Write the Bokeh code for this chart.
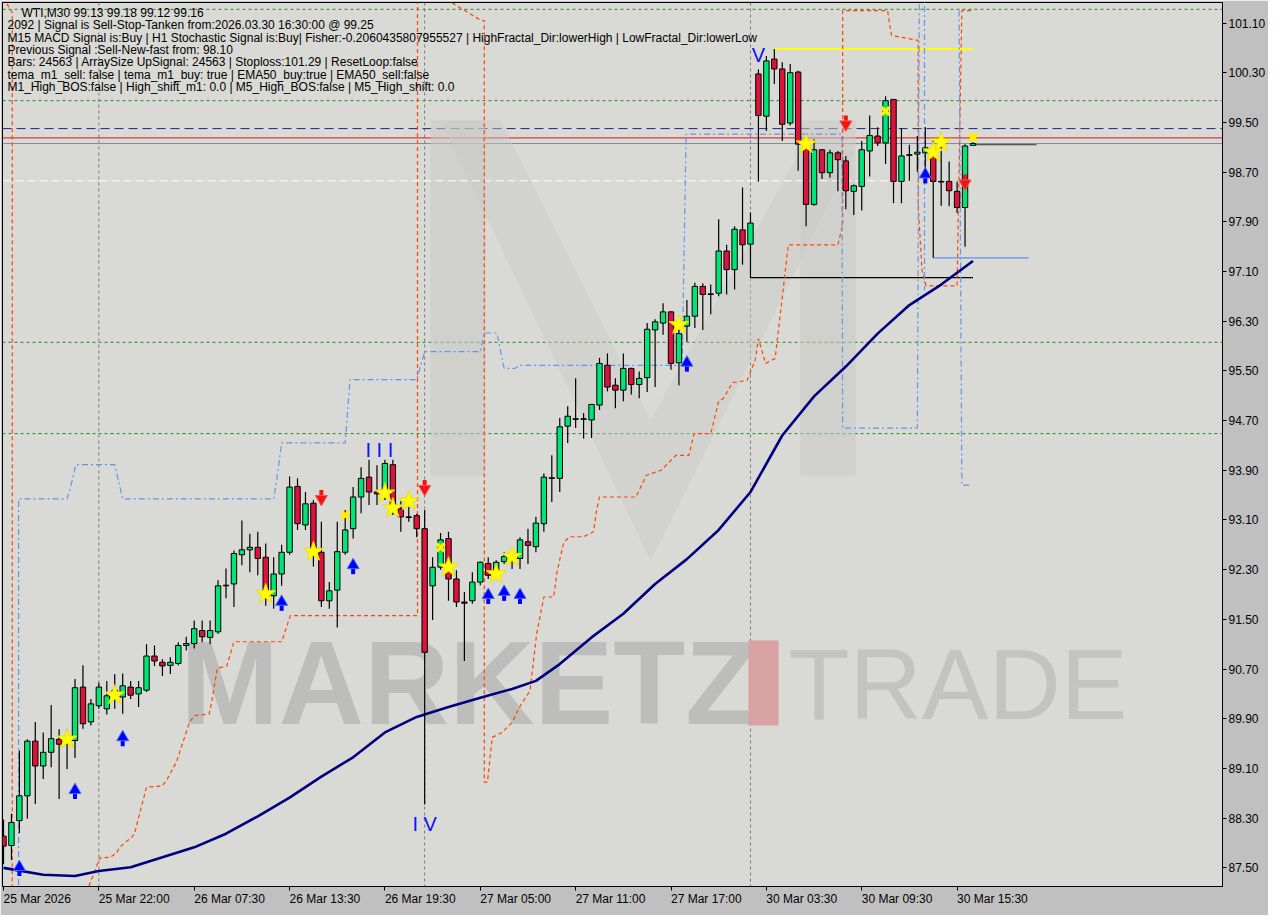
import math
from bokeh.plotting import figure
from bokeh.models import Range1d, FixedTicker, Span, Label, ColumnDataSource
from bokeh.core.properties import value
from bokeh.embed import file_html
from bokeh.resources import INLINE

# ---------------- data ----------------
open_ = [88.01, 87.86, 88.26, 88.66, 89.54, 89.14, 89.36, 89.57, 89.55, 89.55,
         90.41, 89.85, 90.11, 90.06, 90.24, 90.25, 90.41, 90.30, 90.36, 90.91,
         90.81, 90.76, 90.79, 91.08, 91.11, 91.32, 91.21, 91.30, 92.04, 92.07,
         92.54, 92.62, 92.66, 92.50, 91.88, 92.23, 92.58, 93.64, 93.02, 93.37,
         92.58, 91.80, 91.97, 92.58, 92.96, 93.47, 93.79, 93.55, 93.52, 93.99,
         93.28, 93.15, 93.17, 92.96, 92.04, 92.34, 92.80, 92.15, 91.78, 91.80,
         92.10, 92.40, 92.24, 92.43, 92.50, 92.48, 92.75, 92.67, 93.04, 93.77,
         93.77, 94.61, 94.72, 94.72, 94.71, 94.95, 95.59, 95.27, 95.19, 95.54,
         95.28, 95.39, 96.16, 96.27, 96.45, 95.63, 96.22, 96.38, 96.86, 96.73,
         96.75, 97.43, 97.13, 97.77, 97.54, 100.28, 99.60, 100.52, 100.36, 99.49,
         100.31, 99.12, 98.18, 99.06, 98.69, 99.01, 98.88, 98.39, 98.47, 99.04,
         99.28, 99.17, 99.87, 98.55, 98.97, 98.99, 99.01, 99.04, 98.55, 98.55,
         98.39, 98.13, 99.13]
high = [88.28, 88.37, 89.39, 89.57, 89.85, 89.68, 90.12, 89.73, 89.73, 90.54,
        90.76, 90.22, 90.48, 90.51, 90.62, 90.63, 90.51, 90.51, 91.10, 91.08,
        90.86, 90.89, 91.13, 91.22, 91.48, 91.48, 91.48, 92.13, 92.32, 92.61,
        93.09, 92.88, 92.91, 92.72, 92.50, 92.70, 93.80, 93.77, 93.55, 93.42,
        93.07, 92.10, 93.07, 93.26, 93.63, 93.95, 94.07, 93.98, 94.07, 94.07,
        93.40, 93.31, 93.20, 93.26, 92.50, 92.89, 92.91, 92.29, 91.94, 92.26,
        92.43, 92.50, 92.45, 92.58, 92.62, 92.82, 92.96, 93.15, 93.85, 94.14,
        94.74, 94.93, 95.38, 94.82, 94.96, 95.71, 95.78, 95.38, 95.78, 95.55,
        95.49, 96.27, 96.33, 96.59, 96.46, 96.33, 96.64, 96.92, 96.91, 96.89,
        97.94, 97.53, 97.83, 98.45, 98.05, 100.35, 100.57, 100.68, 100.47, 100.44,
        100.33, 99.18, 99.23, 99.07, 99.06, 99.04, 98.96, 98.50, 99.20, 99.61,
        99.42, 99.92, 99.87, 99.41, 99.14, 99.28, 99.42, 99.23, 99.23, 98.87,
        98.55, 99.15, 99.18]
low = [87.56, 87.63, 88.06, 88.29, 88.53, 88.93, 89.12, 88.61, 89.09, 89.27,
       89.74, 89.79, 90.06, 89.97, 90.06, 89.98, 90.22, 90.09, 90.33, 90.75,
       90.59, 90.62, 90.76, 91.00, 91.03, 91.13, 91.10, 91.27, 91.84, 91.70,
       92.37, 92.26, 92.21, 91.72, 91.67, 92.04, 92.54, 92.94, 92.94, 92.35,
       91.70, 91.67, 91.37, 92.54, 92.80, 93.21, 93.34, 93.34, 93.42, 93.18,
       92.91, 93.07, 92.82, 88.52, 91.49, 92.30, 91.80, 91.70, 90.83, 91.75,
       92.05, 92.15, 92.18, 92.39, 92.31, 92.31, 92.39, 92.58, 92.91, 93.39,
       93.55, 94.34, 94.58, 94.41, 94.42, 94.87, 95.17, 94.90, 95.01, 95.12,
       95.06, 95.16, 95.24, 96.08, 95.52, 95.27, 95.97, 96.19, 96.16, 96.41,
       96.70, 96.73, 96.81, 97.21, 97.00, 98.55, 99.36, 100.12, 99.20, 99.45,
       98.72, 97.83, 98.16, 98.59, 98.61, 98.39, 98.10, 98.01, 98.08, 98.63,
       99.12, 98.83, 98.20, 98.20, 98.56, 98.71, 98.75, 97.32, 98.16, 98.15,
       98.04, 97.50, 99.12]
close = [87.85, 88.23, 88.66, 89.54, 89.14, 89.36, 89.58, 89.49, 89.62, 90.40,
         89.82, 90.14, 90.41, 90.27, 90.36, 90.43, 90.28, 90.40, 90.91, 90.83,
         90.75, 90.81, 91.08, 91.11, 91.35, 91.22, 91.32, 92.04, 92.05, 92.56,
         92.62, 92.66, 92.48, 91.91, 92.23, 92.58, 93.63, 93.04, 93.36, 92.59,
         91.80, 91.96, 92.59, 92.94, 93.47, 93.77, 93.55, 93.52, 94.01, 93.29,
         93.15, 93.14, 92.96, 90.97, 92.34, 92.78, 92.15, 91.78, 91.76, 92.10,
         92.42, 92.21, 92.42, 92.51, 92.53, 92.78, 92.69, 93.05, 93.79, 93.78,
         94.60, 94.77, 94.73, 94.73, 94.96, 95.62, 95.24, 95.19, 95.54, 95.28,
         95.38, 96.17, 96.29, 96.45, 95.62, 96.10, 96.38, 96.86, 96.73, 96.74,
         97.43, 97.13, 97.78, 97.53, 97.88, 99.61, 100.49, 100.36, 99.47, 100.30,
         99.15, 98.18, 99.06, 98.69, 99.01, 98.90, 98.40, 98.48, 99.06, 99.29,
         99.17, 99.85, 98.55, 98.96, 98.98, 99.02, 99.09, 98.55, 98.54, 98.40,
         98.13, 99.12, 99.16]
bar_index = list(range(len(open_)))

# EMA (read at selected bars)
ema_x = [0, 5, 9, 12, 16, 20, 24, 28, 32, 36, 40, 44, 48, 52, 56, 60, 64, 67, 70,
         74, 78, 82, 86, 90, 94, 98, 102, 106, 110, 114, 118, 122]
ema_y = [87.50, 87.39, 87.37, 87.45, 87.51, 87.67, 87.83, 88.05, 88.33, 88.63,
         88.97, 89.28, 89.68, 89.93, 90.09, 90.24, 90.38, 90.51, 90.78, 91.21,
         91.59, 92.07, 92.47, 92.94, 93.55, 94.46, 95.09, 95.57, 96.10, 96.56,
         96.89, 97.27]

# orange dashed trailing band (bar position, price)
band_x = [-0.5, 1.1, 1.1, 10.3, 10.5, 11.25, 12.1, 13.4, 14.25, 14.6, 15.5, 16.1, 16.5,
          18.0, 20.0, 20.6, 21.75, 23.4, 24.0, 25.9, 26.25, 26.9, 28.1, 29.0, 35.0,
          36.1, 52.1, 52.1, 56.0, 56.0, 60.1, 60.5, 60.5, 60.9, 61.5, 62.75, 64.0,
          64.9, 66.25, 67.1, 68.0, 69.25, 69.6, 70.5, 71.25, 73.0, 74.25, 74.6, 75.0,
          79.6, 80.9, 82.75, 84.6, 86.25, 86.9, 89.0, 90.0, 90.6, 91.75, 93.6, 94.6,
          95.0, 95.9, 97.1, 98.0, 98.75, 105.0, 105.6, 105.6, 111.25, 111.75, 115.1,
          115.1, 115.6, 116.1, 120.0, 120.6, 121.9]
band_y = [101.60, 101.27, 86.80, 86.80, 87.13, 87.37, 87.66, 87.67, 87.74, 87.83,
          87.93, 87.98, 88.06, 88.80, 88.82, 88.93, 89.20, 89.84, 89.95, 89.98,
          90.21, 90.71, 90.75, 91.14, 91.14, 91.56, 91.56, 101.60, 101.60, 101.46,
          101.14, 101.14, 88.88, 88.88, 89.60, 89.68, 89.84, 90.08, 90.35, 91.27,
          91.86, 91.86, 92.23, 92.74, 92.83, 92.83, 92.91, 93.23, 93.47, 93.47,
          93.82, 93.90, 94.14, 94.14, 94.49, 94.49, 95.01, 95.06, 95.31, 95.35,
          95.68, 96.02, 95.62, 95.70, 96.68, 97.53, 97.53, 97.85, 101.30, 101.30,
          100.90, 100.82, 98.16, 97.11, 96.87, 96.87, 101.30, 101.30]

# cornflower dash-dot channel line
chan_x = [1.9, 1.9, 8.0, 8.4, 9.1, 14.0, 14.6, 15.0, 34.0, 34.4, 35.0, 43.0, 43.6,
          52.0, 53.0, 54.6, 60.0, 60.5, 62.1, 63.0, 64.4, 64.9, 85.4, 85.9, 105.5,
          105.6, 115.0, 115.25, float("nan"), 115.9, 115.9, float("nan"),
          120.25, 120.6, 121.9]
chan_y = [87.00, 93.44, 93.44, 93.60, 93.99, 93.99, 93.66, 93.44, 93.44, 93.76,
          94.34, 94.34, 95.36, 95.36, 95.81, 95.81, 95.81, 96.11, 96.11, 95.54,
          95.54, 95.59, 95.59, 99.31, 99.31, 94.58, 94.58, 101.60, float("nan"),
          101.60, 96.80, float("nan"), 101.30, 93.66, 93.66]

x_tick_pos = [0, 12, 24, 36, 48, 60, 72, 84, 96, 108, 120]
x_tick_labels = ["25 Mar 2026", "25 Mar 22:00", "26 Mar 07:30", "26 Mar 13:30",
                 "26 Mar 19:30", "27 Mar 05:00", "27 Mar 11:00", "27 Mar 17:00",
                 "30 Mar 03:30", "30 Mar 09:30", "30 Mar 15:30"]
y_ticks = [87.50, 88.30, 89.10, 89.90, 90.70, 91.50, 92.30, 93.10, 93.90, 94.70,
           95.50, 96.30, 97.10, 97.90, 98.70, 99.50, 100.30, 101.10]

green_levels = [101.32, 99.85, 95.96, 94.49]
blue_level = 99.40
signal_level = 99.25
bid_level = 99.16
white_level = 98.56
day_breaks = [12, 53, 94]

buy_arrow_x = [2, 9, 15, 35, 44, 61, 63, 65, 86, 116]
buy_arrow_y = [87.48, 88.72, 89.57, 91.75, 92.34, 91.86, 91.91, 91.86, 95.60, 98.63]
sell_arrow_x = [40, 53, 106, 121]
sell_arrow_y = [93.47, 93.63, 99.50, 98.55]
star_x = [8, 14, 33, 39, 48, 49, 51, 56, 62, 64, 85, 101, 117, 118]
star_y = [89.57, 90.28, 91.91, 92.59, 93.53, 93.29, 93.40, 92.34, 92.23, 92.51,
          96.24, 99.15, 99.02, 99.18]
cross_x = [43, 55, 111, 122]
cross_y = [93.18, 92.66, 99.68, 99.26]
wave_text = ["V", "I  I  I", "I V"]
wave_x = [95, 48, 53]
wave_y = [100.58, 94.22, 88.21]

header = [
    "WTI,M30  99.13 99.18 99.12 99.16",
    "2092 | Signal is Sell-Stop-Tanken from:2026.03.30 16:30:00 @ 99.25",
    "M15 MACD Signal is:Buy | H1 Stochastic Signal is:Buy| Fisher:-0.2060435807955527 | HighFractal_Dir:lowerHigh | LowFractal_Dir:lowerLow",
    "Previous Signal :Sell-New-fast from: 98.10",
    "Bars: 24563 | ArraySize UpSignal: 24563 | Stoploss:101.29 | ResetLoop:false",
    "tema_m1_sell: false | tema_m1_buy: true | EMA50_buy:true | EMA50_sell:false",
    "M1_High_BOS:false | High_shift_m1: 0.0 | M5_High_BOS:false | M5_High_shift: 0.0",
]

# ---------------- figure ----------------
X0, X1 = -0.125, 153.4
Y0, Y1 = 87.20, 101.43
FW, FH = 1220, 884
ppx = (X1 - X0) / FW   # bar units per pixel
ppy = (Y1 - Y0) / FH   # price per pixel
FONT = "Liberation Sans"

p = figure(width=1264, height=906, frame_width=FW, frame_height=FH,
           x_range=Range1d(X0, X1), y_range=Range1d(Y0, Y1),
           output_backend="svg", toolbar_location=None,
           x_axis_location="below", y_axis_location="right",
           min_border_left=2, min_border_top=2, min_border_right=0, min_border_bottom=20)
p.background_fill_color = "#d9d9d5"
p.border_fill_color = "#c0c0c0"
p.outline_line_color = "black"
p.outline_line_width = 1
p.xgrid.visible = False
p.ygrid.visible = False

xa = p.xaxis[0]
xa.ticker = FixedTicker(ticks=x_tick_pos)
xa.major_label_overrides = {t: l for t, l in zip(x_tick_pos, x_tick_labels)}
xa.major_label_orientation = -0.0001      # left-aligned labels at their ticks
xa.major_label_text_font = FONT
xa.major_label_text_font_size = "12px"
xa.major_label_text_color = "black"
xa.major_label_standoff = 8
xa.major_tick_out = 4
xa.major_tick_in = 0
xa.minor_tick_out = 0
xa.minor_tick_in = 0
xa.axis_line_color = "black"

ya = p.yaxis[0]
ya.ticker = FixedTicker(ticks=y_ticks)
ya.major_label_overrides = {t: f"{t:.2f}" for t in y_ticks}
ya.major_label_text_font = FONT
ya.major_label_text_font_size = "12px"
ya.major_label_text_color = "black"
ya.major_label_standoff = 2
ya.major_tick_out = 4
ya.major_tick_in = 0
ya.minor_tick_out = 0
ya.minor_tick_in = 0
ya.axis_line_color = "black"

# ---------------- watermark (decoration) ----------------
def wx(px):
    return X0 + (px - 2) * ppx

def wy(py):
    return Y1 - (py - 2) * ppy

p.patch([wx(430), wx(485), wx(485), wx(430)], [wy(120), wy(120), wy(475), wy(475)],
        fill_color="#c9c9c6", fill_alpha=0.55, line_alpha=0)
p.patch([wx(800), wx(855), wx(855), wx(800)], [wy(120), wy(120), wy(475), wy(475)],
        fill_color="#c9c9c6", fill_alpha=0.55, line_alpha=0)
p.patch([wx(440), wx(500), wx(650), wx(800), wx(855), wx(650)],
        [wy(120), wy(120), wy(420), wy(150), wy(150), wy(560)],
        fill_color="#c9c9c6", fill_alpha=0.45, line_alpha=0)
p.text(x=[wx(180)], y=[wy(682)], text=["MARKETZ"], text_font=value(FONT),
       text_font_style="bold", text_font_size="118px", text_color="#bdbdbb",
       text_baseline="middle", text_align="left")
p.patch([wx(748), wx(778), wx(778), wx(748)], [wy(640), wy(640), wy(725), wy(725)],
        fill_color="#d9a2a2", line_alpha=0)
p.text(x=[wx(788)], y=[wy(683)], text=["TRADE"], text_font=value(FONT),
       text_font_size="100px", text_color="#c3c3c1",
       text_baseline="middle", text_align="left")

# ---------------- horizontal / vertical guides ----------------
for d in day_breaks:
    p.add_layout(Span(location=d, dimension="height", line_color="#7a7a7a",
                      line_dash="3 3", line_width=1, level="underlay"))
for g in green_levels:
    p.add_layout(Span(location=g, dimension="width", line_color="#1f8a1f",
                      line_dash="3 3", line_width=1, level="underlay"))
p.add_layout(Span(location=blue_level, dimension="width", line_color="#20208a",
                  line_dash="9 5", line_width=1, level="underlay"))
p.add_layout(Span(location=signal_level, dimension="width", line_color="#e01010",
                  line_width=1, level="underlay"))
p.add_layout(Span(location=bid_level, dimension="width", line_color="#7d8ea0",
                  line_width=1, level="underlay"))

p.line([0, 112], [white_level, white_level], line_color="white", line_dash="8 4",
       line_width=1)
p.line([97, 122], [high[97], high[97]], line_color="#ffff00", line_width=2)
p.line([94, 122], [low[94], low[94]], line_color="black", line_width=1.2)
p.line([117, 129], [low[117], low[117]], line_color="#5a8ef0", line_width=1.2)
p.line([122, 130], [close[122] - 0.02, close[122] - 0.02], line_color="#303030",
       line_width=1.2)

# indicator lines
p.line(band_x, band_y, line_color="#ff4500", line_dash="4 3", line_width=1.2)
p.line(chan_x, chan_y, line_color="#6495ed", line_dash="6 3 2 3", line_width=1.2)
p.line(ema_x, ema_y, line_color="#00007f", line_width=2.6)

# ---------------- candles ----------------
up = [i for i in bar_index if close[i] >= open_[i]]
dn = [i for i in bar_index if close[i] < open_[i]]
src_up = ColumnDataSource(dict(x=up, top=[close[i] for i in up], bottom=[open_[i] for i in up]))
src_dn = ColumnDataSource(dict(x=dn, top=[open_[i] for i in dn], bottom=[close[i] for i in dn]))
p.segment(x0=bar_index, y0=high, x1=bar_index, y1=low, line_color="black", line_width=1.2)
p.vbar(x="x", width=0.68, top="top", bottom="bottom", source=src_up,
       fill_color="#00e676", line_color="black", line_width=1)
p.vbar(x="x", width=0.68, top="top", bottom="bottom", source=src_dn,
       fill_color="#dc143c", line_color="black", line_width=1)

# ---------------- signal markers ----------------
p.segment(x0=buy_arrow_x, x1=buy_arrow_x,
          y0=[v - 1 * ppy for v in buy_arrow_y], y1=[v - 7 * ppy for v in buy_arrow_y],
          line_color="#0000ff", line_width=4)
p.scatter(x=buy_arrow_x, y=[v + 2 * ppy for v in buy_arrow_y], marker="triangle",
          size=12, fill_color="#0000ff", line_color="#3c6cff", line_width=1)
p.segment(x0=sell_arrow_x, x1=sell_arrow_x,
          y0=[v + 1 * ppy for v in sell_arrow_y], y1=[v + 7 * ppy for v in sell_arrow_y],
          line_color="#f01414", line_width=4)
p.scatter(x=sell_arrow_x, y=[v - 2 * ppy for v in sell_arrow_y], marker="inverted_triangle",
          size=12, fill_color="#f01414", line_color="#ff5050", line_width=1)
p.scatter(x=star_x, y=star_y, marker="star", size=21, fill_color="#ffff00",
          line_color="#f0e000", line_width=1)
p.scatter(x=cross_x, y=cross_y, marker="x", size=11, line_color="#ffee00", line_width=3.5)
p.text(x=wave_x, y=wave_y, text=wave_text, text_font=value(FONT), text_font_size="20px",
       text_color="#1010ff", text_align="center", text_baseline="middle")

# ---------------- header text ----------------
hx = [wx(21)] + [wx(7)] * (len(header) - 1)
hy = [wy(12.5 + 12.35 * k) for k in range(len(header))]
p.text(x=hx, y=hy, text=header, text_font=value(FONT), text_font_size="12px",
       text_color="black", text_align="left", text_baseline="middle")

# ---------------- price tags on the axis ----------------
tags = [(101.32, "#2a8a2a", "white"), (99.85, "#2a8a2a", "white"),
        (95.96, "#2a8a2a", "white"), (94.49, "#2a8a2a", "white"),
        (blue_level, "#0000ff", "white"), (bid_level, "black", "white")]
for lvl, bg, fg in tags:
    p.add_layout(Label(x=X1, y=lvl, x_offset=2, text=f"{lvl:.2f}", text_font=FONT,
                       text_font_size="12px", text_color=fg, text_baseline="middle",
                       text_align="left", background_fill_color=bg,
                       background_fill_alpha=1.0, padding=2))

open("out.html", "w").write(file_html(p, INLINE))
